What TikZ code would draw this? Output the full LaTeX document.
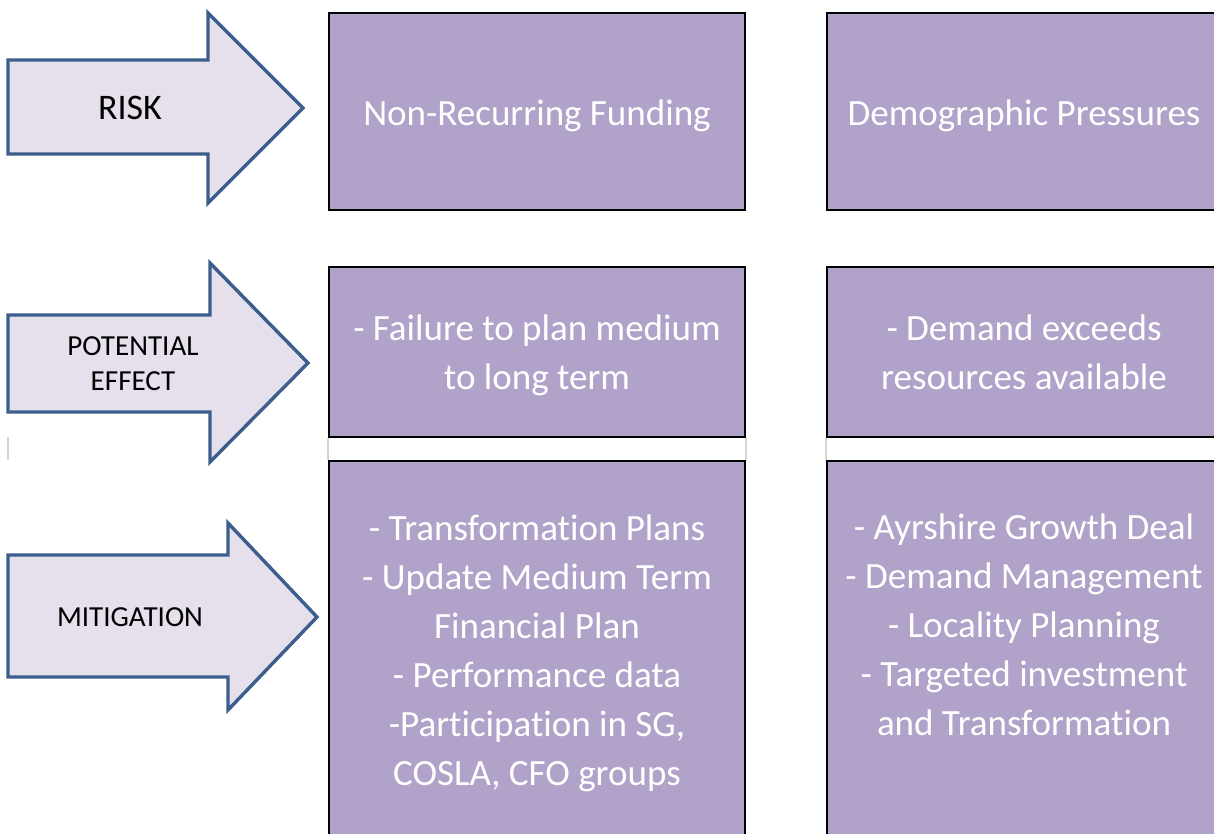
\documentclass[tikz,border=0pt]{standalone}
\usepackage{fontspec}
\setmainfont{Carlito}[Ligatures=NoCommon]
\usepackage{tikz}
\usetikzlibrary{positioning}

\definecolor{boxfill}{HTML}{B1A2C9}
\definecolor{arrowfill}{HTML}{E5E0EC}
\definecolor{arrowline}{HTML}{3B5E8C}
\definecolor{gridline}{HTML}{D4D4D4}

\begin{document}
\begin{tikzpicture}[
  x=0.03cm, y=-0.03cm,
  cell/.style={draw=black, line width=1.6pt, fill=boxfill, inner sep=0pt},
  celltext/.style={text=white, align=center, inner sep=0pt, font=\fontsize{31.6}{41.8}\selectfont},
  bigarrow/.style={draw=arrowline, fill=arrowfill, line width=2.9pt, line join=miter},
  arrowlabel/.style={align=center, inner sep=0pt, font=\fontsize{24.8}{29.9}\selectfont},
  grid/.style={draw=gridline, line width=1.2pt}
]
\useasboundingbox (0,0) rectangle (1214,833);
\clip (0,0) rectangle (1214,833);
\fill[white] (0,0) rectangle (1214,833);

\draw[bigarrow] (8,60) -- (208,60) -- (208,13) -- (303,108) -- (208,203) -- (208,154) -- (8,154) -- cycle;
\draw[bigarrow] (8,315) -- (210,315) -- (210,263) -- (308,363) -- (210,462) -- (210,412) -- (8,412) -- cycle;
\draw[bigarrow] (8,555) -- (228,555) -- (228,523) -- (317,617) -- (228,710) -- (228,677) -- (8,677) -- cycle;

\node[arrowlabel, font=\fontsize{30.7}{36}\selectfont] (risk) at (130,108) {RISK};
\node[arrowlabel] (effect) at (133,364) {POTENTIAL\\EFFECT};
\node[arrowlabel] (mitigation) at (130,617) {MITIGATION};

\node[cell, minimum width=12.48cm, minimum height=5.91cm] (funding) at (537,111.5) {};
\node[cell, minimum width=11.82cm, minimum height=5.91cm] (demography) at (1024,111.5) {};
\node[cell, minimum width=12.48cm, minimum height=5.1cm] (failure) at (537,352) {};
\node[cell, minimum width=11.82cm, minimum height=5.1cm] (demand) at (1024,352) {};
\node[cell, minimum width=12.48cm, minimum height=11.52cm] (fundplan) at (537,653) {};
\node[cell, minimum width=11.82cm, minimum height=11.52cm] (demogplan) at (1024,653) {};

\node[celltext] (fundingtext) at (537,115.5) {Non-Recurring Funding};
\node[celltext] (demographytext) at (1024,115.5) {Demographic Pressures};
\node[celltext] (failuretext) at (537,355) {- Failure to plan medium\\to long term};
\node[celltext] (demandtext) at (1024,352) {- Demand exceeds\\resources available};
\node[celltext] (fundplantext) at (537,653.5) {- Transformation Plans\\- Update Medium Term\\Financial Plan\\- Performance data\\-Participation in SG,\\COSLA, CFO groups};
\node[celltext] (demogplantext) at (1024,624.5) {- Ayrshire Growth Deal\\- Demand Management\\- Locality Planning\\- Targeted investment\\and Transformation};

\draw[grid] (failure.south west) -- (fundplan.north west);
\draw[grid] (failure.south east) -- (fundplan.north east);
\draw[grid] (demand.south west) -- (demogplan.north west);
\draw[grid] (8,437) -- (8,460);
\end{tikzpicture}
\end{document}
